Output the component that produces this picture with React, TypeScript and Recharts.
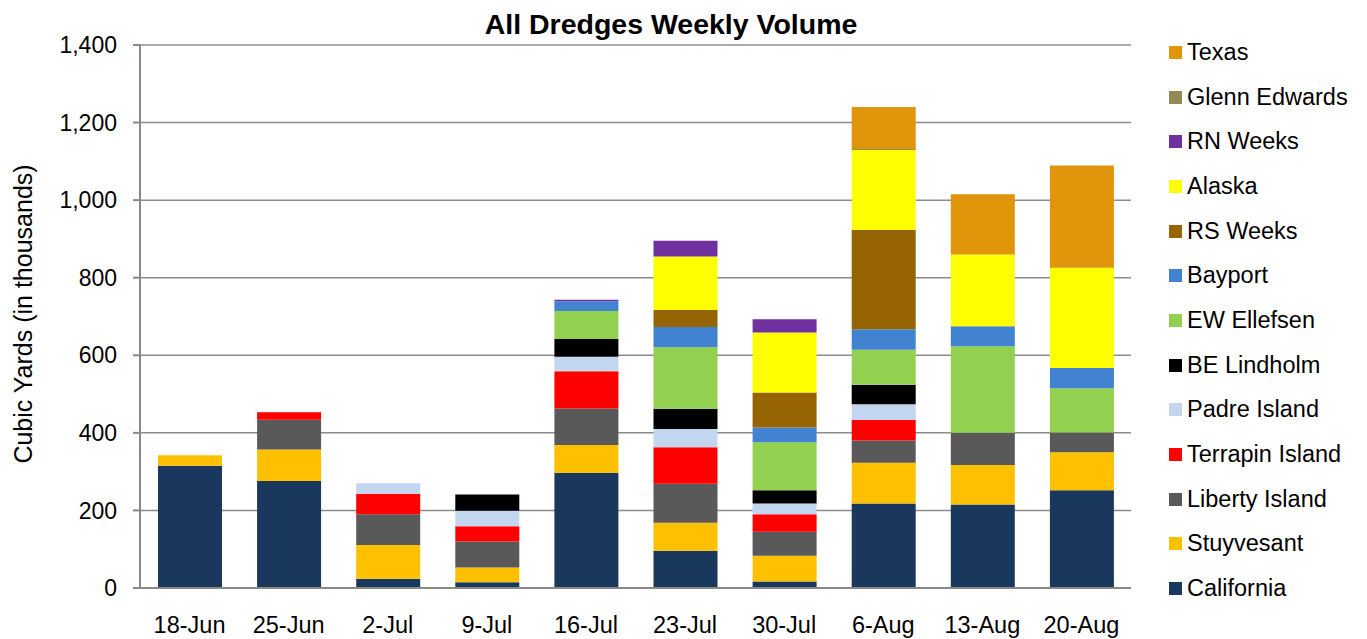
import { BarChart, Bar, XAxis, YAxis, CartesianGrid } from 'recharts';

const weeks = ['18-Jun', '25-Jun', '2-Jul', '9-Jul', '16-Jul', '23-Jul', '30-Jul', '6-Aug', '13-Aug', '20-Aug'];

// weekly volume per dredge, cubic yards in thousands
const california = [315, 276, 24, 15, 297, 96, 17, 218, 215, 252];
const stuyvesant = [27, 81, 87, 38, 72, 72, 66, 105, 102, 98];
const libertyIsland = [0, 77, 79, 67, 94, 101, 62, 57, 83, 51];
const terrapinIsland = [0, 19, 53, 39, 96, 94, 45, 53, 0, 0];
const padreIsland = [0, 0, 27, 40, 37, 47, 28, 41, 0, 0];
const beLindholm = [0, 0, 0, 42, 46, 52, 34, 50, 0, 0];
const ewEllefsen = [0, 0, 0, 0, 72, 159, 124, 90, 223, 114];
const bayport = [0, 0, 0, 0, 25, 52, 38, 53, 52, 52];
const rsWeeks = [0, 0, 0, 0, 0, 44, 90, 256, 0, 0];
const alaska = [0, 0, 0, 0, 0, 138, 155, 206, 185, 259];
const rnWeeks = [0, 0, 0, 0, 4, 40, 34, 0, 0, 0];
const glennEdwards = [0, 0, 0, 0, 0, 0, 0, 3, 0, 0];
const texas = [0, 0, 0, 0, 0, 0, 0, 108, 155, 263];

const yTicks = [0, 200, 400, 600, 800, 1000, 1200, 1400];

const series = [
    { key: 'California', values: california, color: '#1a375e' },
    { key: 'Stuyvesant', values: stuyvesant, color: '#ffc000' },
    { key: 'Liberty Island', values: libertyIsland, color: '#595959' },
    { key: 'Terrapin Island', values: terrapinIsland, color: '#ff0000' },
    { key: 'Padre Island', values: padreIsland, color: '#c2d6f0' },
    { key: 'BE Lindholm', values: beLindholm, color: '#000000' },
    { key: 'EW Ellefsen', values: ewEllefsen, color: '#92d050' },
    { key: 'Bayport', values: bayport, color: '#4183d0' },
    { key: 'RS Weeks', values: rsWeeks, color: '#976404' },
    { key: 'Alaska', values: alaska, color: '#ffff00' },
    { key: 'RN Weeks', values: rnWeeks, color: '#7030a0' },
    { key: 'Glenn Edwards', values: glennEdwards, color: '#948a54' },
    { key: 'Texas', values: texas, color: '#e0950a' },
];

const data = weeks.map((week, i) => {
    const row: Record<string, any> = { week };
    series.forEach(s => { row[s.key] = s.values[i]; });
    return row;
});

const font = '"Liberation Sans", Arial, sans-serif';
const axisGray = '#898989';

export default function App() {
    return (
        <div style={{ position: 'absolute', left: 0, top: 0, width: 1367, height: 639, background: '#fff', fontFamily: font }}>
            <div style={{ position: 'absolute', left: 0, top: 10, width: 1342, textAlign: 'center', fontWeight: 'bold', fontSize: 28.5, lineHeight: '28.5px', color: '#000' }}>
                All Dredges Weekly Volume
            </div>
            <BarChart width={1367} height={639} data={data} margin={{ top: 45, right: 236, bottom: 21, left: 0 }} barSize={64} style={{ fontFamily: font }}>
                <CartesianGrid vertical={false} stroke="#8c8c8c" strokeWidth={1.5} />
                <XAxis dataKey="week" height={30} tickLine={false} tickSize={6} tickMargin={22} axisLine={{ stroke: axisGray, strokeWidth: 2 }} tick={{ fill: '#000', fontSize: 23.5 }} interval={0} />
                <YAxis width={140} domain={[0, 1400]} ticks={yTicks} tickSize={7} tickMargin={16} tickFormatter={(v: number) => v.toLocaleString('en-US')}
                    axisLine={{ stroke: axisGray, strokeWidth: 2 }} tickLine={{ stroke: axisGray, strokeWidth: 2 }} tick={{ fill: '#000', fontSize: 23 }}
                    label={{ content: () => <text x={32} y={314} transform="rotate(-90 32 314)" textAnchor="middle" fontSize={25} fill="#000">Cubic Yards (in thousands)</text> }} />
                <YAxis yAxisId="right" orientation="right" width={0} domain={[0, 1400]} tick={false} tickLine={false} axisLine={{ stroke: axisGray, strokeWidth: 2 }} />
                {series.map(s => (
                    <Bar key={s.key} dataKey={s.key} stackId="a" fill={s.color} isAnimationActive={false} />
                ))}
            </BarChart>
            <div style={{ position: 'absolute', left: 1169, top: 30 }}>
                {[...series].reverse().map(s => (
                    <div key={s.key} style={{ height: 44.7, display: 'flex', alignItems: 'center' }}>
                        <span style={{ width: 13, height: 13, background: s.color, display: 'inline-block', marginRight: 5 }} />
                        <span style={{ fontSize: 23.5, color: '#000', whiteSpace: 'nowrap' }}>{s.key}</span>
                    </div>
                ))}
            </div>
        </div>
    );
}
